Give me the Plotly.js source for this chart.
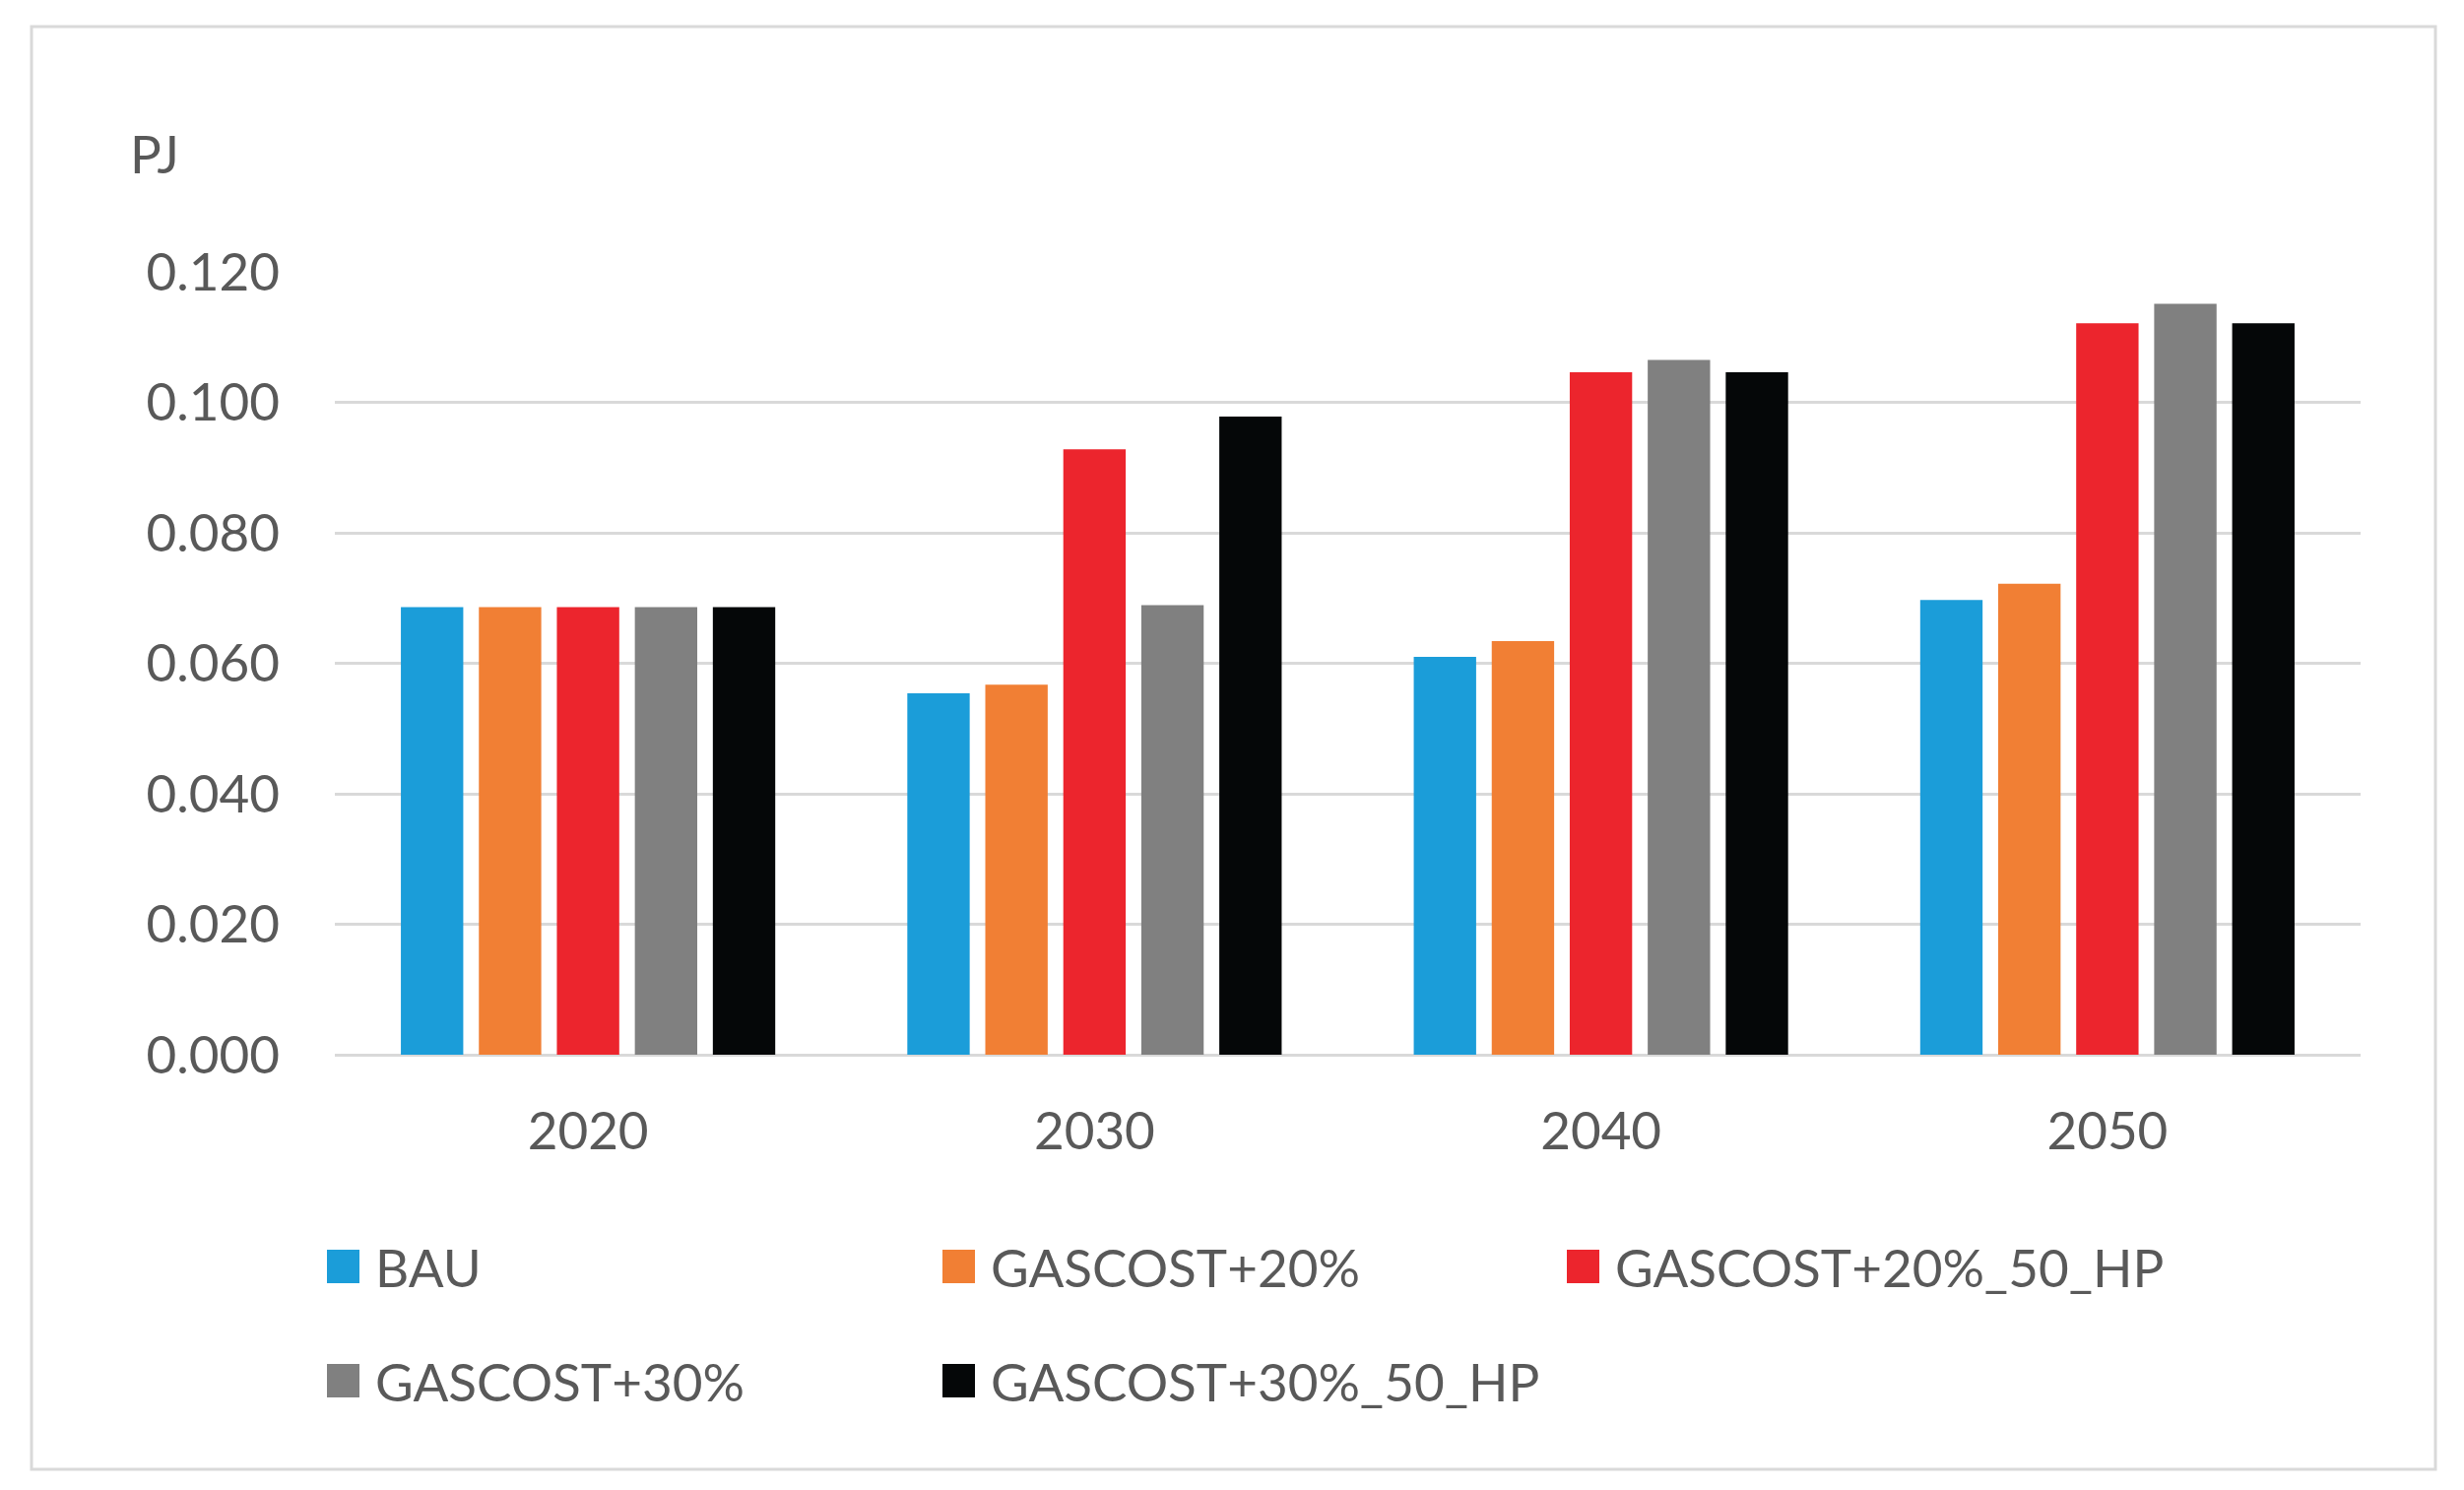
<!DOCTYPE html>
<html>
<head>
<meta charset="utf-8">
<script src="https://cdn.plot.ly/plotly-3.0.1.min.js"></script>
<style>html,body{margin:0;padding:0;background:#fff;}#chart{width:2502px;height:1513px;}</style>
</head>
<body>
<div id="chart"></div>
<script>
// ---- data ----
const years = ["2020", "2030", "2040", "2050"];
const seriesNames = ["BAU", "GASCOST+20%", "GASCOST+20%_50_HP", "GASCOST+30%", "GASCOST+30%_50_HP"];
const BAU = [0.0686, 0.0554, 0.0610, 0.0697];
const GASCOST20 = [0.0686, 0.0567, 0.0634, 0.0722];
const GASCOST20_50_HP = [0.0686, 0.0928, 0.1046, 0.1121];
const GASCOST30 = [0.0686, 0.0689, 0.1065, 0.1151];
const GASCOST30_50_HP = [0.0686, 0.0978, 0.1046, 0.1121];
const yTicks = [0, 0.02, 0.04, 0.06, 0.08, 0.10, 0.12];
const unitLabel = "PJ";

// ---- style ----
const colors = ["#1b9dd9", "#f17f34", "#ec252d", "#808080", "#050708"];
const W = 2502, H = 1513;
const L = 340, R = 2397, T = 276, B = 1071;
const font = "Lato, 'Open Sans', sans-serif";
const textColor = "#595959";
const fs = 53;

const values = [BAU, GASCOST20, GASCOST20_50_HP, GASCOST30, GASCOST30_50_HP];
const traces = seriesNames.map((n, i) => ({
  type: "bar", name: n, x: years, y: values[i],
  marker: {color: colors[i], line: {width: 0}},
  showlegend: false, hoverinfo: "x+y+name"
}));

const px = x => (x - L) / (R - L);
const py = y => (B - y) / (B - T);

const shapes = [{
  type: "rect", xref: "paper", yref: "paper",
  x0: px(32), x1: px(2473), y0: py(27), y1: py(1492),
  line: {color: "#d9d9d9", width: 3}, fillcolor: "rgba(0,0,0,0)", layer: "below"
}];
const annotations = [{
  xref: "paper", yref: "paper", x: px(130), y: py(155), xanchor: "left", yanchor: "middle",
  text: unitLabel, showarrow: false, font: {family: font, size: fs, color: textColor}
}];
// legend positions (layout)
const legPos = [[332, 1286], [957, 1286], [1591, 1286], [332, 1402], [957, 1402]];
seriesNames.forEach((n, i) => {
  const [lx, ly] = legPos[i];
  shapes.push({type: "rect", xref: "paper", yref: "paper",
    x0: px(lx), x1: px(lx + 33), y0: py(ly - 17), y1: py(ly + 17),
    fillcolor: colors[i], line: {width: 0}});
  annotations.push({xref: "paper", yref: "paper", x: px(lx + 47), y: py(ly),
    xanchor: "left", yanchor: "middle", text: n, showarrow: false,
    font: {family: font, size: fs, color: textColor}});
});

const layout = {
  width: W, height: H,
  margin: {l: L, r: W - R, t: T, b: H - B, pad: 0},
  paper_bgcolor: "#ffffff", plot_bgcolor: "#ffffff",
  barmode: "group", bargap: 0.23, bargroupgap: 0.2,
  font: {family: font, size: fs, color: textColor},
  xaxis: {type: "category", range: [-0.5, 3.5], showgrid: false, zeroline: false,
    showline: false, ticks: "", tickfont: {family: font, size: fs, color: textColor},
    ticklabelstandoff: 42, fixedrange: true},
  yaxis: {range: [0, 0.12], tickvals: yTicks, tickformat: ".3f", showgrid: true,
    gridcolor: "#d9d9d9", gridwidth: 3, zeroline: true, zerolinecolor: "#d9d9d9",
    zerolinewidth: 3, showline: false, ticks: "",
    tickfont: {family: font, size: fs, color: textColor}, ticklabelstandoff: 55, fixedrange: true},
  shapes: shapes, annotations: annotations, showlegend: false
};
Plotly.newPlot("chart", traces, layout, {displayModeBar: false, staticPlot: true});
</script>
</body>
</html>
